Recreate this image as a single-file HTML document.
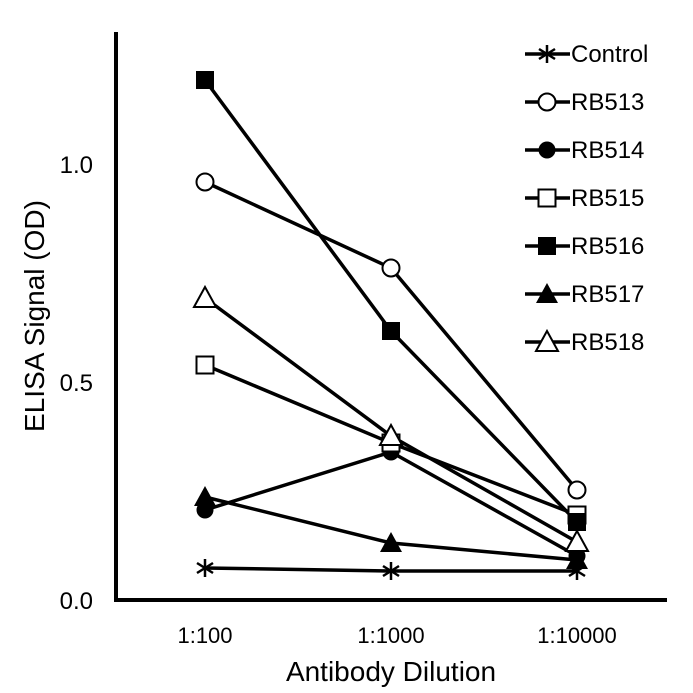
<!DOCTYPE html>
<html><head><meta charset="utf-8"><style>body{margin:0;background:#fff}svg{display:block}</style></head><body>
<svg width="693" height="693" xmlns="http://www.w3.org/2000/svg" font-family="Liberation Sans, sans-serif">
<g stroke="#000" stroke-width="4" fill="none">
<polyline points="116,32 116,600 667,600"/>
</g>
<g font-size="24" fill="#000" text-anchor="end">
<text x="93" y="173">1.0</text><text x="93" y="391">0.5</text><text x="93" y="609">0.0</text>
</g>
<g font-size="22" fill="#000" text-anchor="middle">
<text x="205" y="643">1:100</text><text x="391" y="643">1:1000</text><text x="577" y="643">1:10000</text>
<text x="391" y="681" font-size="28">Antibody Dilution</text>
<text transform="translate(44,316) rotate(-90)" font-size="28">ELISA Signal (OD)</text>
</g>
<g stroke="#000" stroke-width="3.5" fill="none">
<polyline points="205,568 391,571 577,571"/>
<polyline points="205,182 391,268 577,490"/>
<polyline points="205,510 391,452 577,556"/>
<polyline points="205,365 391,443 577,515"/>
<polyline points="205,80 391,331 577,522"/>
<polyline points="205,497 391,543 577,560"/>
<polyline points="205,298 391,436 577,542"/>
</g>
<defs>
<g id="ast" stroke="#000" stroke-width="2.5"><line x1="0" y1="-9" x2="0" y2="9"/><line x1="-8" y1="-5" x2="8" y2="5"/><line x1="-8" y1="5" x2="8" y2="-5"/></g>
<circle id="oc" r="8.5" fill="#fff" stroke="#000" stroke-width="2"/>
<circle id="fc" r="8.5" fill="#000"/>
<rect id="os" x="-8.5" y="-8.5" width="17" height="17" fill="#fff" stroke="#000" stroke-width="2"/>
<rect id="fs" x="-9" y="-9" width="18" height="18" fill="#000"/>
<path id="ft" d="M0,-11 L11,9 L-11,9Z" fill="#000"/>
<path id="ot" d="M0,-11 L11,9 L-11,9Z" fill="#fff" stroke="#000" stroke-width="2"/>
</defs>
<use href="#ast" x="205" y="568"/><use href="#ast" x="391" y="571"/><use href="#ast" x="577" y="571"/>
<use href="#oc" x="205" y="182"/><use href="#oc" x="391" y="268"/><use href="#oc" x="577" y="490"/>
<use href="#fc" x="205" y="510"/><use href="#fc" x="391" y="452"/><use href="#fc" x="577" y="556"/>
<use href="#os" x="205" y="365"/><use href="#os" x="391" y="443"/><use href="#os" x="577" y="515"/>
<use href="#fs" x="205" y="80"/><use href="#fs" x="391" y="331"/><use href="#fs" x="577" y="522"/>
<use href="#ft" x="205" y="497"/><use href="#ft" x="391" y="543"/><use href="#ft" x="577" y="560"/>
<use href="#ot" x="205" y="298"/><use href="#ot" x="391" y="436"/><use href="#ot" x="577" y="542"/>
<g stroke="#000" stroke-width="3.5">
<line x1="525" y1="54" x2="570" y2="54"/><line x1="525" y1="102" x2="570" y2="102"/><line x1="525" y1="150" x2="570" y2="150"/>
<line x1="525" y1="198" x2="570" y2="198"/><line x1="525" y1="246" x2="570" y2="246"/><line x1="525" y1="294" x2="570" y2="294"/><line x1="525" y1="342" x2="570" y2="342"/>
</g>
<use href="#ast" x="547" y="54"/><use href="#oc" x="547" y="102"/><use href="#fc" x="547" y="150"/><use href="#os" x="547" y="198"/><use href="#fs" x="547" y="246"/><use href="#ft" x="547" y="294"/><use href="#ot" x="547" y="342"/>
<g font-size="24" fill="#000">
<text x="571" y="62">Control</text><text x="571" y="110">RB513</text><text x="571" y="158">RB514</text><text x="571" y="206">RB515</text><text x="571" y="254">RB516</text><text x="571" y="302">RB517</text><text x="571" y="350">RB518</text>
</g>
</svg>
</body></html>
